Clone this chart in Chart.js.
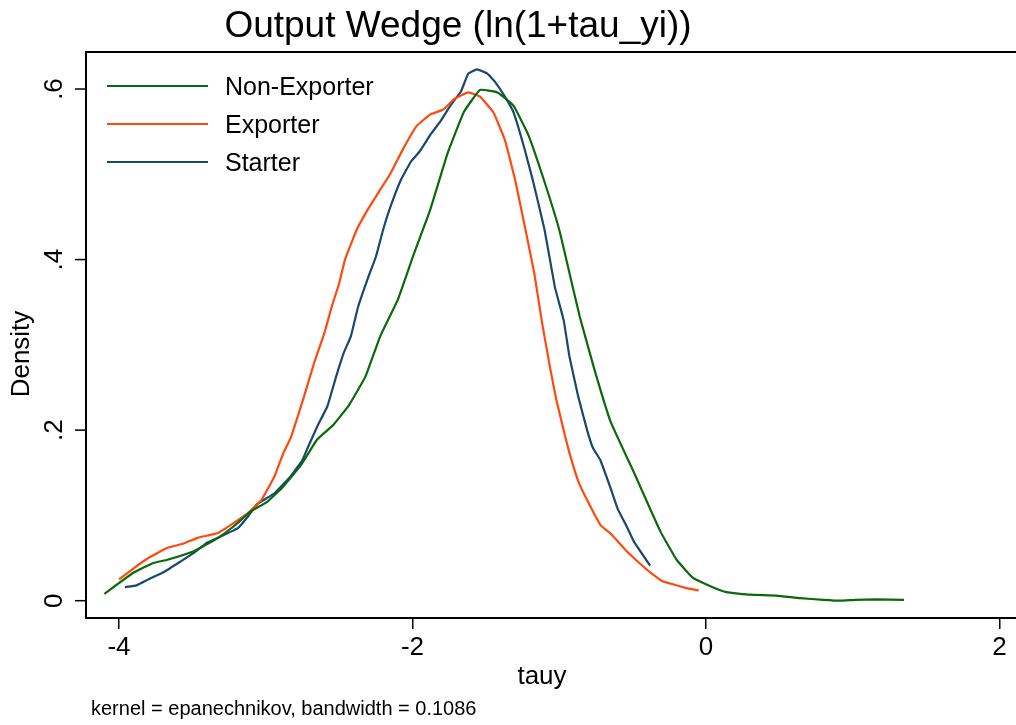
<!DOCTYPE html>
<html>
<head>
<meta charset="utf-8">
<script src="https://cdn.jsdelivr.net/npm/chart.js@4.4.1/dist/chart.umd.min.js"></script>
<style>
  html, body { margin: 0; padding: 0; background: #fff; }
  #wrap { width: 1016px; height: 725px; }
</style>
</head>
<body>
<div id="wrap"><canvas id="kdens" width="1016" height="725"></canvas></div>
<script>
// Kernel density of tauy
const nonExpX = [-4.10, -3.90, -3.77, -3.67, -3.49, -3.35, -3.22, -3.10, -2.99, -2.88, -2.76, -2.65, -2.54, -2.43, -2.32, -2.22, -2.10, -1.99, -1.88, -1.76, -1.65, -1.54, -1.42, -1.31, -1.21, -1.10, -1.00, -0.93, -0.86, -0.76, -0.65, -0.49, -0.31, -0.20, -0.09, 0.03, 0.14, 0.30, 0.48, 0.64, 0.80, 0.91, 1.02, 1.16, 1.35];
const nonExpY = [0.008, 0.033, 0.044, 0.048, 0.058, 0.071, 0.087, 0.105, 0.116, 0.134, 0.159, 0.189, 0.206, 0.230, 0.263, 0.310, 0.353, 0.407, 0.458, 0.525, 0.573, 0.599, 0.596, 0.580, 0.546, 0.491, 0.435, 0.384, 0.333, 0.271, 0.210, 0.150, 0.081, 0.048, 0.027, 0.017, 0.010, 0.007, 0.006, 0.003, 0.001, 0.000, 0.001, 0.0016, 0.001];

const expX = [-4.00, -3.90, -3.80, -3.67, -3.56, -3.46, -3.33, -3.22, -3.12, -3.03, -2.94, -2.88, -2.83, -2.74, -2.67, -2.60, -2.55, -2.50, -2.46, -2.38, -2.30, -2.22, -2.15, -2.06, -1.97, -1.88, -1.79, -1.71, -1.62, -1.54, -1.45, -1.37, -1.30, -1.23, -1.17, -1.12, -1.06, -1.02, -0.97, -0.93, -0.87, -0.81, -0.72, -0.64, -0.54, -0.40, -0.30, -0.22, -0.14, -0.05];
const expY = [0.025, 0.038, 0.050, 0.062, 0.067, 0.074, 0.079, 0.091, 0.103, 0.118, 0.146, 0.173, 0.191, 0.239, 0.279, 0.314, 0.345, 0.372, 0.400, 0.435, 0.460, 0.482, 0.501, 0.531, 0.557, 0.570, 0.576, 0.589, 0.596, 0.591, 0.573, 0.540, 0.493, 0.435, 0.384, 0.329, 0.271, 0.236, 0.200, 0.173, 0.140, 0.118, 0.089, 0.077, 0.058, 0.036, 0.023, 0.019, 0.015, 0.012];

const starterX = [-3.96, -3.88, -3.80, -3.69, -3.58, -3.49, -3.40, -3.31, -3.19, -3.12, -3.06, -2.94, -2.83, -2.75, -2.72, -2.65, -2.58, -2.52, -2.47, -2.42, -2.37, -2.30, -2.25, -2.20, -2.15, -2.08, -2.01, -1.95, -1.88, -1.81, -1.74, -1.67, -1.62, -1.56, -1.49, -1.44, -1.37, -1.31, -1.24, -1.18, -1.10, -1.03, -0.97, -0.93, -0.87, -0.81, -0.77, -0.72, -0.65, -0.60, -0.54, -0.49, -0.38];
const starterY = [0.016, 0.018, 0.025, 0.034, 0.046, 0.056, 0.068, 0.075, 0.085, 0.099, 0.113, 0.126, 0.146, 0.165, 0.177, 0.204, 0.228, 0.263, 0.290, 0.310, 0.345, 0.380, 0.403, 0.435, 0.462, 0.493, 0.515, 0.527, 0.546, 0.562, 0.581, 0.597, 0.618, 0.623, 0.618, 0.609, 0.591, 0.572, 0.532, 0.493, 0.435, 0.368, 0.329, 0.286, 0.239, 0.200, 0.179, 0.165, 0.132, 0.107, 0.087, 0.069, 0.041];

const seriesNames = ['Non-Exporter', 'Exporter', 'Starter'];
const seriesColors = ['#0b690b', '#ff4a0f', '#1a476f'];
const xTicks = [-4, -2, 0, 2];
const yTicks = [0, 0.2, 0.4, 0.6];
const yTickLabels = ['0', '.2', '.4', '.6'];

const FONT = "'Liberation Sans', Arial, sans-serif";

function toPoints(xs, ys) {
    return xs.map((x, i) => ({ x: x, y: ys[i] }));
}

function makeSet(i, xs, ys) {
    return {
        label: seriesNames[i],
        data: toPoints(xs, ys),
        borderColor: seriesColors[i],
        borderWidth: 2.2,
        pointRadius: 0,
        tension: 0.1,
        fill: false
    };
}

// Stata-style extras: frame, rotated y labels, titles, legend inside plot
const stataDecor = {
    id: 'stataDecor',
    afterDraw(chart) {
        const ctx = chart.ctx;
        const area = chart.chartArea;
        const ys = chart.scales.y;

        ctx.save();
        ctx.strokeStyle = '#000';
        ctx.lineWidth = 2;
        // frame runs off the right edge of the picture, so no right side
        ctx.beginPath();
        ctx.moveTo(1016, area.top);
        ctx.lineTo(area.left, area.top);
        ctx.lineTo(area.left, area.bottom);
        ctx.lineTo(1016, area.bottom);
        ctx.stroke();

        // y tick marks and rotated labels
        ctx.lineWidth = 1.5;
        ctx.fillStyle = '#000';
        ctx.font = '26px ' + FONT;
        ctx.textAlign = 'center';
        ctx.textBaseline = 'middle';
        yTicks.forEach((v, i) => {
            const py = ys.getPixelForValue(v);
            ctx.beginPath();
            ctx.moveTo(area.left - 11, py);
            ctx.lineTo(area.left, py);
            ctx.stroke();
            ctx.save();
            ctx.translate(55, py);
            ctx.rotate(-Math.PI / 2);
            ctx.fillText(yTickLabels[i], 0, 0);
            ctx.restore();
        });

        // y axis title
        ctx.save();
        ctx.translate(22, 354);
        ctx.rotate(-Math.PI / 2);
        ctx.fillText('Density', 0, 0);
        ctx.restore();

        // x axis title
        ctx.fillText('tauy', 542, 677);

        // main title
        ctx.font = '37px ' + FONT;
        ctx.fillText('Output Wedge (ln(1+tau_yi))', 458, 27);

        // note
        ctx.font = '20px ' + FONT;
        ctx.textAlign = 'left';
        ctx.fillText('kernel = epanechnikov, bandwidth = 0.1086', 91, 709);

        // legend
        ctx.font = '25px ' + FONT;
        const legY = [86, 124, 162];
        seriesNames.forEach((name, i) => {
            ctx.strokeStyle = seriesColors[i];
            ctx.lineWidth = 2.2;
            ctx.beginPath();
            ctx.moveTo(107, legY[i]);
            ctx.lineTo(208, legY[i]);
            ctx.stroke();
            ctx.fillStyle = '#000';
            ctx.fillText(name, 225, legY[i] + 2);
        });
        ctx.restore();
    }
};

const chart = new Chart(document.getElementById('kdens').getContext('2d'), {
    type: 'line',
    data: {
        datasets: [
            makeSet(0, nonExpX, nonExpY),
            makeSet(1, expX, expY),
            makeSet(2, starterX, starterY)
        ]
    },
    options: {
        responsive: false,
        animation: false,
        layout: { padding: { top: 52, left: 0, right: 1, bottom: 0 } },
        plugins: {
            legend: { display: false },
            title: { display: false },
            tooltip: { enabled: false }
        },
        scales: {
            x: {
                type: 'linear',
                min: -4.225,
                max: 2.106,
                afterBuildTicks: s => { s.ticks = xTicks.map(v => ({ value: v })); },
                afterFit: s => { s.height = 107; },
                grid: {
                    display: true,
                    drawOnChartArea: false,
                    drawTicks: true,
                    tickLength: 11,
                    color: '#000',
                    lineWidth: 1.5
                },
                border: { display: false },
                ticks: {
                    color: '#000',
                    font: { family: FONT, size: 26 },
                    padding: 3,
                    maxRotation: 0,
                    callback: v => String(v)
                }
            },
            y: {
                type: 'linear',
                min: -0.0203,
                max: 0.6434,
                afterBuildTicks: s => { s.ticks = yTicks.map(v => ({ value: v })); },
                afterFit: s => { s.width = 86; },
                grid: { display: false },
                border: { display: false },
                ticks: { display: false }
            }
        }
    },
    plugins: [stataDecor]
});
</script>
</body>
</html>
